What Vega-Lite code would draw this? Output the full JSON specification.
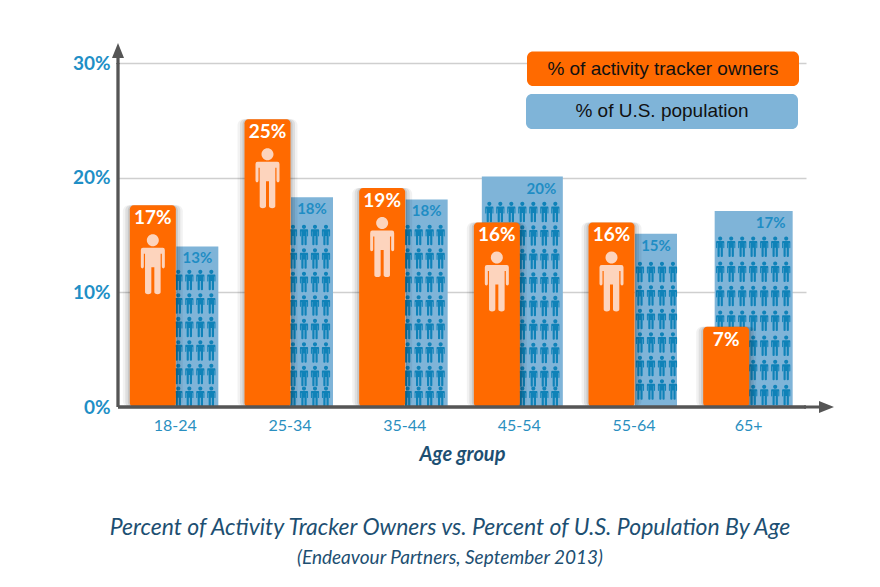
{
  "$schema": "https://vega.github.io/schema/vega-lite/v6.json",
  "description": "Percent of activity tracker owners vs percent of U.S. population by age group",
  "autosize": "none",
  "padding": {"left": 118, "top": 63, "right": 74, "bottom": 180},
  "width": 688,
  "height": 344,
  "background": "white",
  "view": {"stroke": null},
  "title": {
    "text": "Percent of Activity Tracker Owners vs.  Percent of U.S.  Population By Age",
    "subtitle": "(Endeavour Partners, September 2013)",
    "orient": "bottom",
    "anchor": "middle",
    "dx": -12,
    "offset": 53,
    "font": "Lato",
    "fontSize": 23,
    "fontStyle": "italic",
    "fontWeight": "normal",
    "color": "#1d4f72",
    "subtitleFont": "Lato",
    "subtitleFontSize": 19,
    "subtitleFontStyle": "italic",
    "subtitleColor": "#1d4f72",
    "subtitlePadding": 9
  },
  "datasets": {
    "shares": [
      {"group": "18-24", "series": "owners", "value": 17.6, "label": "17%"},
      {"group": "25-34", "series": "owners", "value": 25.1, "label": "25%"},
      {"group": "35-44", "series": "owners", "value": 19.1, "label": "19%"},
      {"group": "45-54", "series": "owners", "value": 16.1, "label": "16%"},
      {"group": "55-64", "series": "owners", "value": 16.1, "label": "16%"},
      {"group": "65+", "series": "owners", "value": 7, "label": "7%"},
      {"group": "18-24", "series": "population", "value": 14, "label": "13%"},
      {"group": "25-34", "series": "population", "value": 18.3, "label": "18%"},
      {"group": "35-44", "series": "population", "value": 18.1, "label": "18%"},
      {"group": "45-54", "series": "population", "value": 20.1, "label": "20%"},
      {"group": "55-64", "series": "population", "value": 15.1, "label": "15%"},
      {"group": "65+", "series": "population", "value": 17.1, "label": "17%"}
    ],
    "people": [
      {"group":"18-24","col":0,"level":0.9},{"group":"18-24","col":1,"level":0.9},{"group":"18-24","col":2,"level":0.9},{"group":"18-24","col":3,"level":0.9},
      {"group":"18-24","col":0,"level":2.88},{"group":"18-24","col":1,"level":2.88},{"group":"18-24","col":2,"level":2.88},{"group":"18-24","col":3,"level":2.88},
      {"group":"18-24","col":0,"level":4.93},{"group":"18-24","col":1,"level":4.93},{"group":"18-24","col":2,"level":4.93},{"group":"18-24","col":3,"level":4.93},
      {"group":"18-24","col":0,"level":6.97},{"group":"18-24","col":1,"level":6.97},{"group":"18-24","col":2,"level":6.97},{"group":"18-24","col":3,"level":6.97},
      {"group":"18-24","col":0,"level":9.02},{"group":"18-24","col":1,"level":9.02},{"group":"18-24","col":2,"level":9.02},{"group":"18-24","col":3,"level":9.02},
      {"group":"18-24","col":0,"level":11.07},{"group":"18-24","col":1,"level":11.07},{"group":"18-24","col":2,"level":11.07},{"group":"18-24","col":3,"level":11.07},
      {"group":"25-34","col":0,"level":0.9},{"group":"25-34","col":1,"level":0.9},{"group":"25-34","col":2,"level":0.9},{"group":"25-34","col":3,"level":0.9},
      {"group":"25-34","col":0,"level":2.7},{"group":"25-34","col":1,"level":2.7},{"group":"25-34","col":2,"level":2.7},{"group":"25-34","col":3,"level":2.7},
      {"group":"25-34","col":0,"level":4.75},{"group":"25-34","col":1,"level":4.75},{"group":"25-34","col":2,"level":4.75},{"group":"25-34","col":3,"level":4.75},
      {"group":"25-34","col":0,"level":6.8},{"group":"25-34","col":1,"level":6.8},{"group":"25-34","col":2,"level":6.8},{"group":"25-34","col":3,"level":6.8},
      {"group":"25-34","col":0,"level":8.85},{"group":"25-34","col":1,"level":8.85},{"group":"25-34","col":2,"level":8.85},{"group":"25-34","col":3,"level":8.85},
      {"group":"25-34","col":0,"level":10.9},{"group":"25-34","col":1,"level":10.9},{"group":"25-34","col":2,"level":10.9},{"group":"25-34","col":3,"level":10.9},
      {"group":"25-34","col":0,"level":12.95},{"group":"25-34","col":1,"level":12.95},{"group":"25-34","col":2,"level":12.95},{"group":"25-34","col":3,"level":12.95},
      {"group":"25-34","col":0,"level":15},{"group":"25-34","col":1,"level":15},{"group":"25-34","col":2,"level":15},{"group":"25-34","col":3,"level":15},
      {"group":"35-44","col":0,"level":0.9},{"group":"35-44","col":1,"level":0.9},{"group":"35-44","col":2,"level":0.9},{"group":"35-44","col":3,"level":0.9},
      {"group":"35-44","col":0,"level":2.7},{"group":"35-44","col":1,"level":2.7},{"group":"35-44","col":2,"level":2.7},{"group":"35-44","col":3,"level":2.7},
      {"group":"35-44","col":0,"level":4.75},{"group":"35-44","col":1,"level":4.75},{"group":"35-44","col":2,"level":4.75},{"group":"35-44","col":3,"level":4.75},
      {"group":"35-44","col":0,"level":6.8},{"group":"35-44","col":1,"level":6.8},{"group":"35-44","col":2,"level":6.8},{"group":"35-44","col":3,"level":6.8},
      {"group":"35-44","col":0,"level":8.85},{"group":"35-44","col":1,"level":8.85},{"group":"35-44","col":2,"level":8.85},{"group":"35-44","col":3,"level":8.85},
      {"group":"35-44","col":0,"level":10.9},{"group":"35-44","col":1,"level":10.9},{"group":"35-44","col":2,"level":10.9},{"group":"35-44","col":3,"level":10.9},
      {"group":"35-44","col":0,"level":12.95},{"group":"35-44","col":1,"level":12.95},{"group":"35-44","col":2,"level":12.95},{"group":"35-44","col":3,"level":12.95},
      {"group":"35-44","col":0,"level":15},{"group":"35-44","col":1,"level":15},{"group":"35-44","col":2,"level":15},{"group":"35-44","col":3,"level":15},
      {"group":"45-54","col":-3,"level":17},{"group":"45-54","col":-2,"level":17},{"group":"45-54","col":-1,"level":17},{"group":"45-54","col":0,"level":17},{"group":"45-54","col":1,"level":17},{"group":"45-54","col":2,"level":17},{"group":"45-54","col":3,"level":17},
      {"group":"45-54","col":-3,"level":14.95},{"group":"45-54","col":-2,"level":14.95},{"group":"45-54","col":-1,"level":14.95},{"group":"45-54","col":0,"level":14.95},{"group":"45-54","col":1,"level":14.95},{"group":"45-54","col":2,"level":14.95},{"group":"45-54","col":3,"level":14.95},
      {"group":"45-54","col":-3,"level":12.9},{"group":"45-54","col":-2,"level":12.9},{"group":"45-54","col":-1,"level":12.9},{"group":"45-54","col":0,"level":12.9},{"group":"45-54","col":1,"level":12.9},{"group":"45-54","col":2,"level":12.9},{"group":"45-54","col":3,"level":12.9},
      {"group":"45-54","col":-3,"level":10.85},{"group":"45-54","col":-2,"level":10.85},{"group":"45-54","col":-1,"level":10.85},{"group":"45-54","col":0,"level":10.85},{"group":"45-54","col":1,"level":10.85},{"group":"45-54","col":2,"level":10.85},{"group":"45-54","col":3,"level":10.85},
      {"group":"45-54","col":-3,"level":8.8},{"group":"45-54","col":-2,"level":8.8},{"group":"45-54","col":-1,"level":8.8},{"group":"45-54","col":0,"level":8.8},{"group":"45-54","col":1,"level":8.8},{"group":"45-54","col":2,"level":8.8},{"group":"45-54","col":3,"level":8.8},
      {"group":"45-54","col":-3,"level":6.76},{"group":"45-54","col":-2,"level":6.76},{"group":"45-54","col":-1,"level":6.76},{"group":"45-54","col":0,"level":6.76},{"group":"45-54","col":1,"level":6.76},{"group":"45-54","col":2,"level":6.76},{"group":"45-54","col":3,"level":6.76},
      {"group":"45-54","col":-3,"level":4.71},{"group":"45-54","col":-2,"level":4.71},{"group":"45-54","col":-1,"level":4.71},{"group":"45-54","col":0,"level":4.71},{"group":"45-54","col":1,"level":4.71},{"group":"45-54","col":2,"level":4.71},{"group":"45-54","col":3,"level":4.71},
      {"group":"45-54","col":-3,"level":2.66},{"group":"45-54","col":-2,"level":2.66},{"group":"45-54","col":-1,"level":2.66},{"group":"45-54","col":0,"level":2.66},{"group":"45-54","col":1,"level":2.66},{"group":"45-54","col":2,"level":2.66},{"group":"45-54","col":3,"level":2.66},
      {"group":"45-54","col":-3,"level":0.9},{"group":"45-54","col":-2,"level":0.9},{"group":"45-54","col":-1,"level":0.9},{"group":"45-54","col":0,"level":0.9},{"group":"45-54","col":1,"level":0.9},{"group":"45-54","col":2,"level":0.9},{"group":"45-54","col":3,"level":0.9},
      {"group":"55-64","col":0.27,"level":11.77},{"group":"55-64","col":1.27,"level":11.77},{"group":"55-64","col":2.27,"level":11.77},{"group":"55-64","col":3.27,"level":11.77},
      {"group":"55-64","col":0.27,"level":9.72},{"group":"55-64","col":1.27,"level":9.72},{"group":"55-64","col":2.27,"level":9.72},{"group":"55-64","col":3.27,"level":9.72},
      {"group":"55-64","col":0.27,"level":7.67},{"group":"55-64","col":1.27,"level":7.67},{"group":"55-64","col":2.27,"level":7.67},{"group":"55-64","col":3.27,"level":7.67},
      {"group":"55-64","col":0.27,"level":5.62},{"group":"55-64","col":1.27,"level":5.62},{"group":"55-64","col":2.27,"level":5.62},{"group":"55-64","col":3.27,"level":5.62},
      {"group":"55-64","col":0.27,"level":3.57},{"group":"55-64","col":1.27,"level":3.57},{"group":"55-64","col":2.27,"level":3.57},{"group":"55-64","col":3.27,"level":3.57},
      {"group":"55-64","col":0.27,"level":1.53},{"group":"55-64","col":1.27,"level":1.53},{"group":"55-64","col":2.27,"level":1.53},{"group":"55-64","col":3.27,"level":1.53},
      {"group":"65+","col":-2.86,"level":13.98},{"group":"65+","col":-1.86,"level":13.98},{"group":"65+","col":-0.86,"level":13.98},{"group":"65+","col":0.14,"level":13.98},{"group":"65+","col":1.14,"level":13.98},{"group":"65+","col":2.14,"level":13.98},{"group":"65+","col":3.14,"level":13.98},
      {"group":"65+","col":-2.86,"level":11.8},{"group":"65+","col":-1.86,"level":11.8},{"group":"65+","col":-0.86,"level":11.8},{"group":"65+","col":0.14,"level":11.8},{"group":"65+","col":1.14,"level":11.8},{"group":"65+","col":2.14,"level":11.8},{"group":"65+","col":3.14,"level":11.8},
      {"group":"65+","col":-2.86,"level":9.68},{"group":"65+","col":-1.86,"level":9.68},{"group":"65+","col":-0.86,"level":9.68},{"group":"65+","col":0.14,"level":9.68},{"group":"65+","col":1.14,"level":9.68},{"group":"65+","col":2.14,"level":9.68},{"group":"65+","col":3.14,"level":9.68},
      {"group":"65+","col":-2.86,"level":7.52},{"group":"65+","col":-1.86,"level":7.52},{"group":"65+","col":-0.86,"level":7.52},{"group":"65+","col":0.14,"level":7.52},{"group":"65+","col":1.14,"level":7.52},{"group":"65+","col":2.14,"level":7.52},{"group":"65+","col":3.14,"level":7.52},
      {"group":"65+","col":-2.86,"level":5.34},{"group":"65+","col":-1.86,"level":5.34},{"group":"65+","col":-0.86,"level":5.34},{"group":"65+","col":0.14,"level":5.34},{"group":"65+","col":1.14,"level":5.34},{"group":"65+","col":2.14,"level":5.34},{"group":"65+","col":3.14,"level":5.34},
      {"group":"65+","col":-2.86,"level":3.23},{"group":"65+","col":-1.86,"level":3.23},{"group":"65+","col":-0.86,"level":3.23},{"group":"65+","col":0.14,"level":3.23},{"group":"65+","col":1.14,"level":3.23},{"group":"65+","col":2.14,"level":3.23},{"group":"65+","col":3.14,"level":3.23},
      {"group":"65+","col":-2.86,"level":1.05},{"group":"65+","col":-1.86,"level":1.05},{"group":"65+","col":-0.86,"level":1.05},{"group":"65+","col":0.14,"level":1.05},{"group":"65+","col":1.14,"level":1.05},{"group":"65+","col":2.14,"level":1.05},{"group":"65+","col":3.14,"level":1.05}
    ],
    "key": [
      {"label": "% of activity tracker owners", "series": "owners"},
      {"label": "% of U.S. population", "series": "population"}
    ],
    "one": [{"note": "axis arrow"}]
  },
  "layer": [
    {
      "data": {"name": "shares"},
      "encoding": {
        "x": {
          "field": "group",
          "type": "nominal",
          "sort": null,
          "scale": {"domain": ["18-24", "25-34", "35-44", "45-54", "55-64", "65+"], "padding": 0},
          "axis": {
            "title": "Age group",
            "titleFont": "Lato",
            "titleFontSize": 20,
            "titleFontWeight": "bold",
            "titleFontStyle": "italic",
            "titleColor": "#1d4f72",
            "titlePadding": 11,
            "labelFont": "Lato",
            "labelFontSize": 16,
            "labelColor": "#2a8fc0",
            "labelAngle": 0,
            "labelPadding": 10,
            "ticks": false,
            "grid": false,
            "domain": false
          }
        },
        "y": {
          "field": "value",
          "type": "quantitative",
          "stack": null,
          "scale": {"domain": [0, 30], "nice": false},
          "axis": {
            "title": null,
            "values": [0, 10, 20, 30],
            "labelExpr": "datum.value + '%'",
            "labelFont": "Lato",
            "labelFontSize": 19,
            "labelFontWeight": "bold",
            "labelColor": "#1f8fc6",
            "labelPadding": 8,
            "ticks": false,
            "grid": true,
            "gridColor": "#cfcfcf",
            "gridWidth": 1.5,
            "domain": false
          }
        }
      },
      "layer": [
        {
          "transform": [{"filter": "datum.series == 'population' && datum.group != '45-54' && datum.group != '65+'"}],
          "mark": {"type": "bar", "width": 42, "xOffset": 22, "color": "#7fb4d8"}
        },
        {
          "transform": [{"filter": "datum.series == 'population' && datum.group == '45-54'"}],
          "mark": {"type": "bar", "width": 81, "xOffset": 3, "color": "#7fb4d8"}
        },
        {
          "transform": [{"filter": "datum.series == 'population' && datum.group == '65+'"}],
          "mark": {"type": "bar", "width": 78, "xOffset": 5, "color": "#7fb4d8"}
        },
        {
          "data": {"name": "people"},
          "mark": {
            "type": "point",
            "filled": true,
            "opacity": 1,
            "color": "#0f82b8",
            "size": 420,
            "shape": "M-0.2,-0.8A0.2,0.2 0 1 1 0.2,-0.8A0.2,0.2 0 1 1 -0.2,-0.8ZM-0.33,-0.55L0.33,-0.55Q0.4,-0.55 0.4,-0.47L0.4,0.08Q0.4,0.14 0.35,0.14Q0.3,0.14 0.3,0.08L0.3,-0.35L0.26,-0.35L0.26,0.93Q0.26,1 0.16,1Q0.05,1 0.05,0.93L0.05,0.1L-0.05,0.1L-0.05,0.93Q-0.05,1 -0.16,1Q-0.26,1 -0.26,0.93L-0.26,-0.35L-0.3,-0.35L-0.3,0.08Q-0.3,0.14 -0.35,0.14Q-0.4,0.14 -0.4,0.08L-0.4,-0.47Q-0.4,-0.55 -0.33,-0.55Z"
          },
          "encoding": {
            "y": {"field": "level", "type": "quantitative"},
            "xOffset": {"field": "col", "type": "quantitative", "scale": {"domain": [-3, 3], "range": [27.33, 93.33]}}
          }
        },
        {
          "transform": [{"filter": "datum.series == 'population'"}],
          "mark": {"type": "text", "xOffset": 22, "yOffset": 12, "font": "Lato", "fontSize": 15, "fontWeight": "bold", "color": "#1f8dc4"},
          "encoding": {"text": {"field": "label"}}
        },
        {
          "transform": [{"filter": "datum.series == 'owners'"}],
          "mark": {"type": "bar", "width": 60, "xOffset": -22.5, "cornerRadius": 6, "color": "#000000", "opacity": 0.05}
        },
        {
          "transform": [{"filter": "datum.series == 'owners'"}],
          "mark": {"type": "bar", "width": 55, "xOffset": -22.5, "cornerRadius": 5, "color": "#000000", "opacity": 0.08}
        },
        {
          "transform": [{"filter": "datum.series == 'owners'"}],
          "mark": {"type": "bar", "width": 50, "xOffset": -22.5, "cornerRadius": 5, "color": "#000000", "opacity": 0.1}
        },
        {
          "transform": [{"filter": "datum.series == 'owners'"}],
          "mark": {"type": "bar", "width": 46, "xOffset": -22.5, "cornerRadius": 4, "color": "#ff6a00"}
        },
        {
          "transform": [{"filter": "datum.series == 'owners'"}],
          "mark": {"type": "text", "xOffset": -22.5, "yOffset": 13, "font": "Lato", "fontSize": 19, "fontWeight": "bold", "color": "white"},
          "encoding": {"text": {"field": "label"}}
        },
        {
          "transform": [{"filter": "datum.series == 'owners' && datum.value > 10"}],
          "mark": {
            "type": "point",
            "filled": true,
            "opacity": 1,
            "color": "#fdd4bd",
            "size": 3600,
            "xOffset": -22.5,
            "yOffset": 59,
            "shape": "M-0.2,-0.8A0.2,0.2 0 1 1 0.2,-0.8A0.2,0.2 0 1 1 -0.2,-0.8ZM-0.33,-0.55L0.33,-0.55Q0.4,-0.55 0.4,-0.47L0.4,0.08Q0.4,0.14 0.35,0.14Q0.3,0.14 0.3,0.08L0.3,-0.35L0.26,-0.35L0.26,0.93Q0.26,1 0.16,1Q0.05,1 0.05,0.93L0.05,0.1L-0.05,0.1L-0.05,0.93Q-0.05,1 -0.16,1Q-0.26,1 -0.26,0.93L-0.26,-0.35L-0.3,-0.35L-0.3,0.08Q-0.3,0.14 -0.35,0.14Q-0.4,0.14 -0.4,0.08L-0.4,-0.47Q-0.4,-0.55 -0.33,-0.55Z"
          }
        }
      ]
    },
    {
      "data": {"name": "key"},
      "transform": [{"filter": "datum.series == 'owners'"}],
      "mark": {"type": "bar", "width": 272, "xOffset": 29, "cornerRadius": 6, "color": "#ff6a00"},
      "encoding": {
        "x": {"datum": "55-64", "type": "nominal"},
        "y": {"datum": 31, "type": "quantitative"},
        "y2": {"datum": 28}
      }
    },
    {
      "data": {"name": "key"},
      "transform": [{"filter": "datum.series == 'population'"}],
      "mark": {"type": "bar", "width": 272, "xOffset": 28, "cornerRadius": 6, "color": "#7fb4d8"},
      "encoding": {
        "x": {"datum": "55-64", "type": "nominal"},
        "y": {"datum": 27.3, "type": "quantitative"},
        "y2": {"datum": 24.25}
      }
    },
    {
      "data": {"name": "key"},
      "transform": [{"filter": "datum.series == 'owners'"}],
      "mark": {"type": "text", "xOffset": 29, "font": "Liberation Sans", "fontSize": 19, "color": "#111111"},
      "encoding": {
        "x": {"datum": "55-64", "type": "nominal"},
        "y": {"datum": 29.5, "type": "quantitative"},
        "text": {"field": "label"}
      }
    },
    {
      "data": {"name": "key"},
      "transform": [{"filter": "datum.series == 'population'"}],
      "mark": {"type": "text", "xOffset": 28, "font": "Liberation Sans", "fontSize": 19, "color": "#111111"},
      "encoding": {
        "x": {"datum": "55-64", "type": "nominal"},
        "y": {"datum": 25.78, "type": "quantitative"},
        "text": {"field": "label"}
      }
    },
    {
      "data": {"name": "one"},
      "mark": {"type": "rule", "color": "#555555", "strokeWidth": 3.3},
      "encoding": {"x": {"datum": "18-24", "type": "nominal", "bandPosition": 0}}
    },
    {
      "data": {"name": "one"},
      "mark": {"type": "rule", "color": "#555555", "strokeWidth": 3.3},
      "encoding": {"y": {"datum": 0, "type": "quantitative"}}
    },
    {
      "data": {"name": "one"},
      "mark": {
        "type": "point",
        "filled": true,
        "opacity": 1,
        "color": "#555555",
        "size": 1600,
        "shape": "M0,-1L0.3,-0.25L0.08,-0.25L0.08,0.05L-0.08,0.05L-0.08,-0.25L-0.3,-0.25Z"
      },
      "encoding": {
        "x": {"datum": "18-24", "type": "nominal", "bandPosition": 0},
        "y": {"datum": 30, "type": "quantitative"}
      }
    },
    {
      "data": {"name": "one"},
      "mark": {
        "type": "point",
        "filled": true,
        "opacity": 1,
        "color": "#555555",
        "size": 1600,
        "shape": "M-0.1,-0.08L0.65,-0.08L0.65,-0.3L1.4,0L0.65,0.3L0.65,0.08L-0.1,0.08Z"
      },
      "encoding": {
        "x": {"datum": "65+", "type": "nominal", "bandPosition": 1},
        "y": {"datum": 0, "type": "quantitative"}
      }
    }
  ]
}
